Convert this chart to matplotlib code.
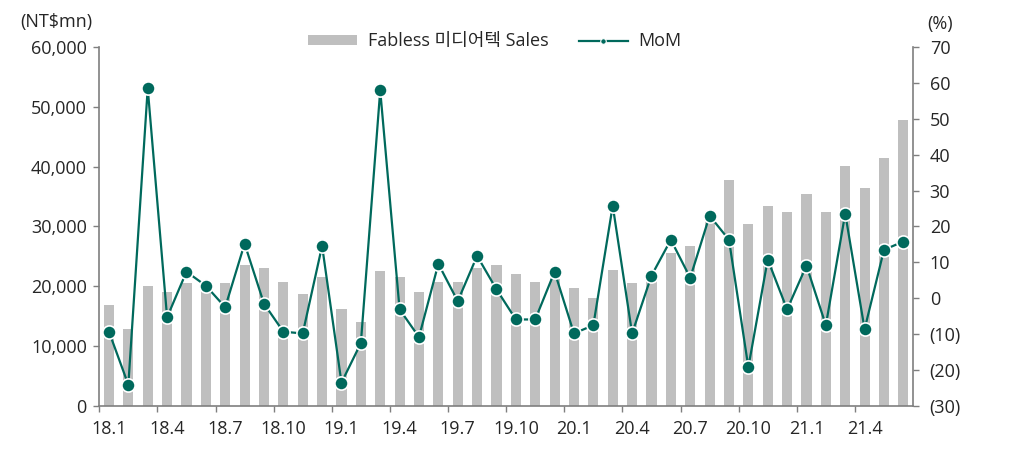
import matplotlib
matplotlib.use("Agg")
import matplotlib.pyplot as plt
from matplotlib.ticker import FuncFormatter, FixedLocator
from matplotlib.lines import Line2D
from matplotlib.patches import Patch

plt.rcParams['font.family'] = ['Open Sans', 'Noto Sans CJK KR', 'DejaVu Sans']

months = [f"{y}.{m}" for y in (18, 19, 20, 21) for m in range(1, 13)][:42]

sales = [16800, 12800, 20100, 19100, 20500, 19600, 20500, 23500, 23100, 20800, 18800, 21500,
         16200, 14100, 22500, 21500, 19100, 20800, 20800, 23100, 23500, 22100, 20800, 21300,
         19800, 18100, 22800, 20500, 22000, 25500, 26800, 31500, 37800, 30400, 33400, 32400,
         35400, 32400, 40100, 36500, 41500, 47800]

mom = [-9.3, -24.1, 58.5, -5.3, 7.4, 3.5, -2.5, 15.2, -1.5, -9.3, -9.8, 14.6,
       -23.5, -12.5, 57.9, -3.1, -10.8, 9.6, -0.8, 11.8, 2.5, -5.9, -5.9, 7.4,
       -9.8, -7.5, 25.8, -9.8, 6.3, 16.3, 5.7, 23.0, 16.3, -19.2, 10.8, -3.1,
       9.1, -7.5, 23.6, -8.6, 13.5, 15.8]

bar_label = "Fabless 미디어텍 Sales"
line_label = "MoM"

BAR_C = "#BFBFBF"
LINE_C = "#00695C"
AX_C = "#7F7F7F"
TXT_C = "#262626"
FS = 13

fig = plt.figure(figsize=(10.1, 4.5), dpi=100)
ax1 = fig.add_axes([0.0983, 0.0978, 0.8057, 0.7978])
ax2 = ax1.twinx()

x = list(range(len(months)))
ax1.bar(x, sales, width=0.52, color=BAR_C, zorder=2)
ax2.plot(x, mom, color=LINE_C, lw=1.6, marker='o', markersize=9.5,
         markerfacecolor=LINE_C, markeredgecolor='white', markeredgewidth=1.2, zorder=3)

ax1.set_xlim(-0.5, len(months) - 0.5)
ax1.set_ylim(0, 60000)
ax1.set_yticks(range(0, 60001, 10000))
ax1.yaxis.set_major_formatter(FuncFormatter(lambda v, p: f"{int(v):,}"))
ax2.set_ylim(-30, 70)
ax2.set_yticks(range(-30, 71, 10))
ax2.yaxis.set_major_formatter(FuncFormatter(lambda v, p: f"({abs(int(v))})" if v < 0 else f"{int(v)}"))

# x ticks: marks at category boundaries every 3, labels at centers
ax1.xaxis.set_major_locator(FixedLocator([i - 0.5 for i in range(0, len(months), 3)]))
ax1.xaxis.set_minor_locator(FixedLocator(list(range(0, len(months), 3))))
ax1.set_xticklabels([])
ax1.set_xticklabels([months[i] for i in range(0, len(months), 3)], minor=True)
ax1.tick_params(axis='x', which='major', length=4, color=AX_C, width=1)
ax1.tick_params(axis='x', which='minor', length=0, labelsize=FS, labelcolor=TXT_C, pad=10)
ax1.tick_params(axis='y', length=4, color=AX_C, width=1, labelsize=FS, labelcolor=TXT_C, pad=5)
ax2.tick_params(axis='y', length=4, color=AX_C, width=1, labelsize=FS, labelcolor=TXT_C, pad=8)

for ax in (ax1, ax2):
    ax.spines['top'].set_visible(False)
    for s in ('left', 'right', 'bottom'):
        ax.spines[s].set_color(AX_C)
        ax.spines[s].set_linewidth(1.2)
ax1.spines['right'].set_visible(False)
ax2.spines['left'].set_visible(False)
ax2.spines['bottom'].set_visible(False)

fig.text(0.02, 0.952, "(NT$mn)", fontsize=FS, color=TXT_C, ha='left', va='center')
fig.text(0.918, 0.947, "(%)", fontsize=FS, color=TXT_C, ha='left', va='center')

handles = [Patch(facecolor=BAR_C, edgecolor='none'),
           Line2D([0], [0], color=LINE_C, lw=1.6, marker='o', markersize=4,
                  markerfacecolor=LINE_C, markeredgecolor='white', markeredgewidth=0.8)]
leg = fig.legend(handles, [bar_label, line_label], loc='center', bbox_to_anchor=(0.49, 0.908),
                 ncol=2, frameon=False, fontsize=FS, handlelength=2.7, handleheight=0.5,
                 columnspacing=1.7, handletextpad=0.6)
for t in leg.get_texts():
    t.set_color(TXT_C)

fig.savefig("out.png", dpi=100)
